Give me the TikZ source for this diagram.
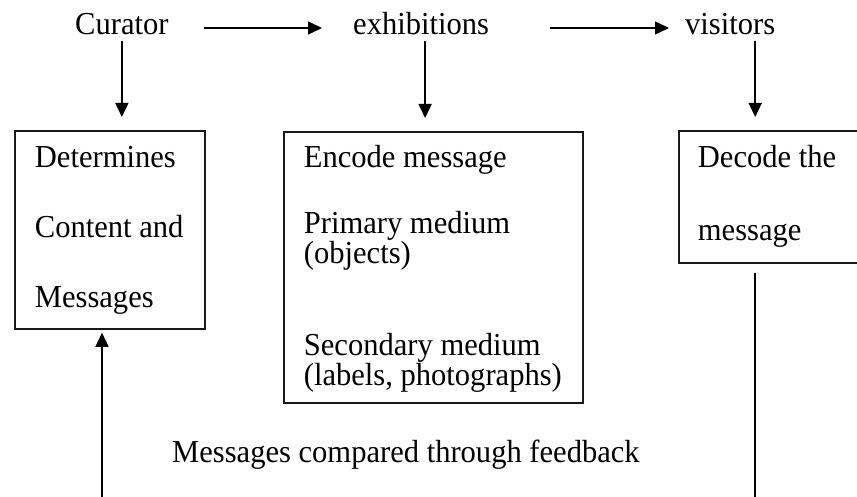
\documentclass[tikz,border=0pt]{standalone}
\usepackage{fontspec}
\setmainfont{Liberation Serif}[FakeStretch=0.955]
\usetikzlibrary{arrows.meta}
\newcommand{\fs}{\fontsize{32}{28}\selectfont}
\begin{document}
\begin{tikzpicture}[x=1pt,y=-1pt,
  lbl/.style={inner sep=0pt, anchor=base west, font=\fs, text=black},
  box/.style={draw=black!90, line width=1.8pt, inner sep=0pt, anchor=north west, font=\fs},
  arr/.style={line width=1.5pt, -{Triangle[length=14pt,width=13pt]}},
  ln/.style={line width=1.5pt}]
\clip (0,0) rectangle (857,497);
\fill[white] (0,0) rectangle (857,497);
% top labels
\node[lbl] (cur) at (75,35) {Curator};
\node[lbl] (exh) at (353,35) {exhibitions};
\node[lbl] (vis) at (685,35) {visitors};
% boxes
\node[box] (b1) at (14,130) {\parbox[c][198pt][t]{190pt}{\lineskiplimit=-100pt\leftskip=20pt\baselineskip=70pt\rule{0pt}{37pt}Determines\\Content and\\Messages}};
\node[box] (b2) at (283,131) {\parbox[c][271pt][t]{299pt}{\lineskiplimit=-100pt\leftskip=20pt\baselineskip=30pt\rule{0pt}{36pt}Encode message\\[36pt]Primary medium\\(objects)\\[62pt]Secondary medium\\(labels, photographs)}};
\node[box] (b3) at (678,130) {\parbox[c][132pt][t]{200pt}{\lineskiplimit=-100pt\leftskip=19pt\baselineskip=73pt\rule{0pt}{37pt}Decode the\\message}};
\node[lbl] (fb) at (172,462) {Messages compared through feedback};
% free ends at the bottom
\coordinate (lb) at (102,497);
\coordinate (rb) at (755,497);
% horizontal arrows
\draw[arr] ([xshift=35pt,yshift=7pt]cur.base east) -- ([xshift=-31pt,yshift=7pt]exh.base west);
\draw[arr] ([xshift=61pt,yshift=7pt]exh.base east) -- ([xshift=-16pt,yshift=7pt]vis.base west);
% down arrows
\draw[arr, shorten <=5pt, shorten >=13pt] (cur.south) -- (cur.south |- b1.north);
\draw[arr, shorten <=5pt, shorten >=13pt] ([xshift=4pt]exh.south) -- ([xshift=4pt]exh.south |- b2.north);
\draw[arr, shorten <=5pt, shorten >=13pt] ([xshift=25pt]vis.south) -- ([xshift=25pt]vis.south |- b3.north);
% feedback loop
\draw[arr, shorten >=3pt] (lb) -- (lb |- b1.south);
\draw[ln, shorten <=9pt] (rb |- b3.south) -- (rb);
\end{tikzpicture}
\end{document}
